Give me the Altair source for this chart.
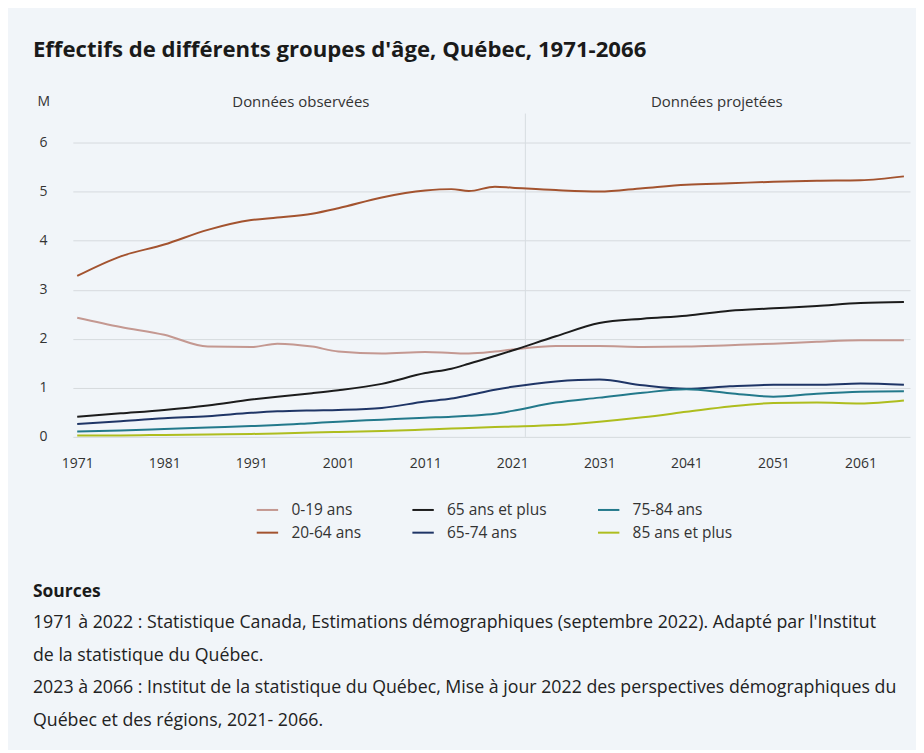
import altair as alt
import pandas as pd

# ---- Données (en millions) ----
annees = [1971, 1976, 1981, 1986, 1991, 1994, 1998, 2001, 2006, 2011, 2014, 2016,
          2019, 2021, 2026, 2031, 2036, 2041, 2046, 2051, 2056, 2061, 2066]

v_0_19 = [2.43, 2.24, 2.08, 1.84, 1.83, 1.90, 1.84, 1.74, 1.70, 1.73, 1.71, 1.70,
          1.74, 1.78, 1.85, 1.85, 1.83, 1.84, 1.87, 1.90, 1.94, 1.97, 1.97]
v_20_64 = [3.28, 3.68, 3.92, 4.22, 4.42, 4.47, 4.55, 4.66, 4.88, 5.02, 5.05, 5.01,
           5.10, 5.08, 5.03, 5.00, 5.07, 5.14, 5.17, 5.20, 5.22, 5.23, 5.31]
v_65_plus = [0.41, 0.48, 0.55, 0.64, 0.76, 0.82, 0.89, 0.95, 1.08, 1.30, 1.39, 1.49,
             1.65, 1.76, 2.05, 2.32, 2.41, 2.47, 2.57, 2.62, 2.67, 2.73, 2.75]
v_65_74 = [0.26, 0.32, 0.38, 0.42, 0.49, 0.52, 0.54, 0.55, 0.59, 0.72, 0.78, 0.85,
           0.96, 1.02, 1.13, 1.17, 1.05, 0.98, 1.03, 1.06, 1.06, 1.09, 1.06]
v_75_84 = [0.11, 0.13, 0.16, 0.19, 0.22, 0.24, 0.28, 0.31, 0.35, 0.39, 0.41, 0.43,
           0.47, 0.53, 0.70, 0.80, 0.90, 0.97, 0.89, 0.82, 0.88, 0.92, 0.93]
v_85_plus = [0.03, 0.03, 0.04, 0.05, 0.06, 0.07, 0.09, 0.10, 0.12, 0.15, 0.17, 0.18,
             0.20, 0.21, 0.24, 0.31, 0.40, 0.51, 0.62, 0.69, 0.70, 0.68, 0.74]

groupes = ["0-19 ans", "65 ans et plus", "75-84 ans",
           "20-64 ans", "65-74 ans", "85 ans et plus"]
couleurs = ["#c49891", "#1c1c1c", "#23798b", "#a3532f", "#1f3566", "#aebd1e"]
series = {
    "0-19 ans": v_0_19,
    "20-64 ans": v_20_64,
    "65 ans et plus": v_65_plus,
    "65-74 ans": v_65_74,
    "75-84 ans": v_75_84,
    "85 ans et plus": v_85_plus,
}

ticks_x = [1971, 1981, 1991, 2001, 2011, 2021, 2031, 2041, 2051, 2061]
ticks_y = [0, 1, 2, 3, 4, 5, 6]
separation = [2022.5]
sections = ["Données observées", "Données projetées"]
sections_x = [1996.7, 2044.5]

titre = "Effectifs de différents groupes d'âge, Québec, 1971-2066"
sources_titre = "Sources"
sources_lignes = [
    "1971 à 2022 : Statistique Canada, Estimations démographiques (septembre 2022). Adapté par l'Institut",
    "de la statistique du Québec.",
    "2023 à 2066 : Institut de la statistique du Québec, Mise à jour 2022 des perspectives démographiques du",
    "Québec et des régions, 2021- 2066.",
]

# ---- Tables ----
rows = []
for g in ["0-19 ans", "20-64 ans", "65 ans et plus", "65-74 ans", "75-84 ans", "85 ans et plus"]:
    for a, v in zip(annees, series[g]):
        rows.append({"annee": a, "valeur": v, "groupe": g})
df = pd.DataFrame(rows)
df_sep = pd.DataFrame({"annee": separation})
df_sec = pd.DataFrame({"annee": sections_x, "texte": sections})
df_one = pd.DataFrame({"k": [0]})

W, H = 839, 295
FONT = "Open Sans"
x_scale = alt.Scale(domain=[1970.5, 2066.7], nice=False, zero=False)
y_scale = alt.Scale(domain=[0, 6], nice=False)

sep = alt.Chart(df_sep).mark_rule(color="#d7dce1", strokeWidth=1).encode(
    x=alt.X("annee:Q", scale=x_scale, title=None),
    y=alt.value(-29),
    y2=alt.value(H),
)

lines = alt.Chart(df).mark_line(strokeWidth=2, interpolate="monotone").encode(
    x=alt.X("annee:Q", scale=x_scale, title=None,
            axis=alt.Axis(values=ticks_x, format="d", grid=False, ticks=False,
                          domain=False, labelPadding=20, labelFontSize=14,
                          labelColor="#333333", labelFont=FONT)),
    y=alt.Y("valeur:Q", scale=y_scale,
            axis=alt.Axis(values=ticks_y, grid=True, gridColor="#d6dade",
                          ticks=False, domain=False, labelPadding=26,
                          labelFontSize=14, labelColor="#333333", labelFont=FONT,
                          title="M", titleAngle=0, titleX=-36, titleY=-34,
                          titleAlign="left", titleBaseline="bottom",
                          titleFontWeight="normal", titleFontSize=14,
                          titleColor="#333333", titleFont=FONT)),
    color=alt.Color("groupe:N", scale=alt.Scale(domain=groupes, range=couleurs),
                    legend=alt.Legend(title=None, orient="none", legendX=183,
                                      legendY=356, direction="horizontal",
                                      columns=3, symbolType="stroke",
                                      symbolStrokeWidth=2, symbolSize=460,
                                      labelFontSize=15.5, labelFont=FONT,
                                      labelColor="#333333", columnPadding=47,
                                      rowPadding=2, labelOffset=12, padding=0)),
)

sec = alt.Chart(df_sec).mark_text(fontSize=15, font=FONT, color="#333333",
                                  baseline="middle", align="center").encode(
    x=alt.X("annee:Q", scale=x_scale, title=None),
    y=alt.value(-41),
    text="texte:N",
)

src_t = alt.Chart(df_one).mark_text(fontSize=17.5, font=FONT, fontWeight="bold",
                                    color="#1a1a1a", align="left",
                                    baseline="alphabetic").encode(
    x=alt.value(-40), y=alt.value(455), text=alt.value(sources_titre))

src_l = alt.Chart(df_one).mark_text(fontSize=17.8, font=FONT, color="#222222",
                                    align="left", baseline="alphabetic",
                                    lineBreak="\n", lineHeight=32.5).encode(
    x=alt.value(-40), y=alt.value(487), text=alt.value("\n".join(sources_lignes)))

chart = alt.layer(sep, lines, sec, src_t, src_l).properties(
    width=W, height=H,
    title=alt.TitleParams(titre, anchor="start", frame="group", fontSize=22.2,
                          fontWeight="bold", font=FONT, color="#1a1a1a",
                          dx=-40, offset=16, baseline="alphabetic"),
    autosize=alt.AutoSizeParams(type="none"),
    padding={"left": 65, "top": 134, "right": 6, "bottom": 313},
).configure(background="#f1f5f9").configure_view(stroke=None)

chart.save("out.html", embed_options={"renderer": "svg", "actions": False})
